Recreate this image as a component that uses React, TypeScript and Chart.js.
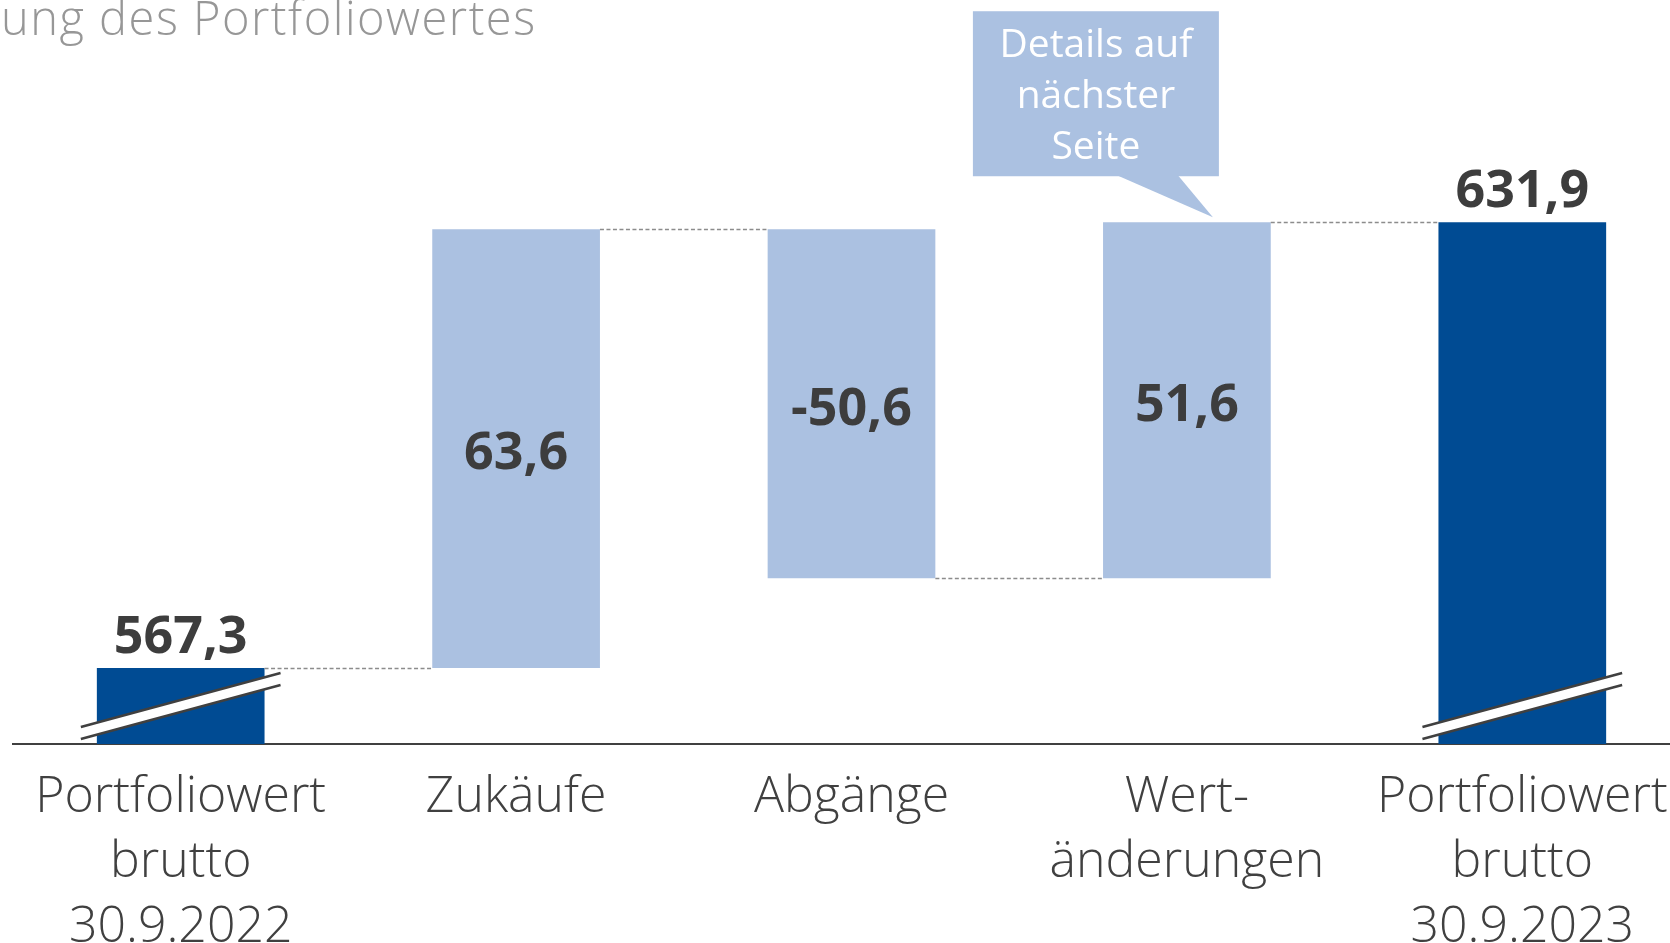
import { useEffect, useRef } from "react";
import { Chart, registerables } from "chart.js";

Chart.register(...registerables);

// ---------- data ----------
const categories: string[][] = [
  ["Portfoliowert", "brutto", "30.9.2022"],
  ["Zukäufe"],
  ["Abgänge"],
  ["Wert-", "änderungen"],
  ["Portfoliowert", "brutto", "30.9.2023"],
];
const startValue = 567.3;
const changes = [63.6, -50.6, 51.6];
const endValue = 631.9;
const valueLabels = ["567,3", "63,6", "-50,6", "51,6", "631,9"];
const titleText = "Entwicklung des Portfoliowertes";
const titleHiddenPart = "Entwickl";
const calloutLines = ["Details auf", "nächster", "Seite"];
const AXIS_MIN = 556.3;
const AXIS_MAX = 664.1;

// ---------- styles ----------
const DARK_BLUE = "#004b93";
const LIGHT_BLUE = "#abc1e1";
const TEXT_DARK = "#3d3d3d";
const AXIS_COLOR = "#404040";
const FONT = "'Open Sans', 'Noto Sans', sans-serif";

// running totals
const totals: number[] = [startValue];
changes.forEach((c) => totals.push(Math.round((totals[totals.length - 1] + c) * 10) / 10));
const ranges: [number, number][] = [[AXIS_MIN, startValue]];
for (let i = 0; i < changes.length; i++) ranges.push([totals[i], totals[i + 1]]);
ranges.push([AXIS_MIN, endValue]);
const connectorLevels = [...totals.slice(0, 3), endValue];
const barColors = [DARK_BLUE, LIGHT_BLUE, LIGHT_BLUE, LIGHT_BLUE, DARK_BLUE];
// break marks: [bar index, centre height above axis]
const breakMarks: [number, number][] = [
  [0, 38],
  [4, 38],
];

const decorPlugin = {
  id: "decor",
  afterDatasetsDraw(chart: any) {
    const ctx: CanvasRenderingContext2D = chart.ctx;
    const meta = chart.getDatasetMeta(0);
    const yScale = chart.scales.y;
    const area = chart.chartArea;
    const bars = meta.data.map((b: any) => {
      const p = b.getProps(["x", "y", "base", "width"], true);
      return {
        x: p.x,
        left: p.x - p.width / 2,
        right: p.x + p.width / 2,
        top: Math.min(p.y, p.base),
        bottom: Math.max(p.y, p.base),
      };
    });

    ctx.save();
    // title (cut off at the top/left like the reference)
    ctx.font = `300 47px ${FONT}`;
    (ctx as any).letterSpacing = "1.5px";
    ctx.fillStyle = "#979797";
    ctx.textAlign = "left";
    ctx.textBaseline = "alphabetic";
    const hidden = ctx.measureText(titleHiddenPart).width;
    ctx.fillText(titleText, -hidden + 1, 35);
    (ctx as any).letterSpacing = "0px";

    // dashed connectors
    ctx.strokeStyle = "#8c8c8c";
    ctx.lineWidth = 1.3;
    ctx.setLineDash([4, 2.5]);
    for (let i = 0; i < 4; i++) {
      const y = Math.round(yScale.getPixelForValue(connectorLevels[i])) + 0.5;
      ctx.beginPath();
      ctx.moveTo(bars[i].right, y);
      ctx.lineTo(bars[i + 1].left, y);
      ctx.stroke();
    }
    ctx.setLineDash([]);

    // break marks
    breakMarks.forEach(([idx, h]) => {
      const b = bars[idx];
      const x1 = b.left - 16;
      const x2 = b.right + 16;
      const cy = area.bottom - h;
      const dy = 27;
      const gap = 6;
      ctx.fillStyle = "#ffffff";
      ctx.beginPath();
      ctx.moveTo(x1, cy + dy - gap);
      ctx.lineTo(x2, cy - dy - gap);
      ctx.lineTo(x2, cy - dy + gap);
      ctx.lineTo(x1, cy + dy + gap);
      ctx.closePath();
      ctx.fill();
      ctx.strokeStyle = AXIS_COLOR;
      ctx.lineWidth = 2.5;
      ctx.beginPath();
      ctx.moveTo(x1, cy + dy - gap);
      ctx.lineTo(x2, cy - dy - gap);
      ctx.moveTo(x1, cy + dy + gap);
      ctx.lineTo(x2, cy - dy + gap);
      ctx.stroke();
    });

    // value labels
    ctx.font = `bold 52px ${FONT}`;
    ctx.fillStyle = TEXT_DARK;
    ctx.textAlign = "center";
    bars.forEach((b: any, i: number) => {
      if (i === 0 || i === bars.length - 1) {
        ctx.textBaseline = "alphabetic";
        ctx.fillText(valueLabels[i], b.x, b.top - 15);
      } else {
        ctx.textBaseline = "middle";
        ctx.fillText(valueLabels[i], b.x, (b.top + b.bottom) / 2 + 6);
      }
    });

    // callout
    const cb = bars[3];
    const boxL = cb.x - 214;
    const boxR = cb.x + 32;
    const boxB = cb.top - 46;
    const boxT = cb.top - 211;
    ctx.fillStyle = LIGHT_BLUE;
    ctx.fillRect(boxL, boxT, boxR - boxL, boxB - boxT);
    ctx.beginPath();
    ctx.moveTo(cb.x - 70, boxB - 1);
    ctx.lineTo(cb.x - 9, boxB - 1);
    ctx.lineTo(cb.x + 26, cb.top - 5);
    ctx.closePath();
    ctx.fill();
    ctx.fillStyle = "#ffffff";
    ctx.font = `39px ${FONT}`;
    ctx.textBaseline = "middle";
    const cx = (boxL + boxR) / 2;
    calloutLines.forEach((line, i) => {
      ctx.fillText(line, cx, boxT + 35 + i * 51);
    });
    ctx.restore();
  },
};

export default function App() {
  const ref = useRef<HTMLCanvasElement | null>(null);
  useEffect(() => {
    if (!ref.current) return;
    const chart = new Chart(ref.current, {
      type: "bar",
      data: {
        labels: categories,
        datasets: [
          {
            data: ranges as any,
            backgroundColor: barColors,
            borderWidth: 0,
            barPercentage: 0.5,
            categoryPercentage: 1,
          },
        ],
      },
      options: {
        responsive: false,
        animation: false,
        events: [],
        layout: { padding: { left: 13, right: 10, top: 0, bottom: 0 } },
        plugins: {
          legend: { display: false },
          tooltip: { enabled: false },
          title: { display: false },
        },
        scales: {
          x: {
            grid: { display: false, drawTicks: false },
            border: { display: true, color: AXIS_COLOR, width: 2 },
            ticks: {
              color: "#404040",
              padding: 21,
              maxRotation: 0,
              autoSkip: false,
              font: { family: FONT, size: 50, weight: "300" as any, lineHeight: 1.3 },
            },
            afterFit: (scale: any) => {
              scale.height = 199;
            },
          },
          y: {
            display: false,
            min: AXIS_MIN,
            max: AXIS_MAX,
          },
        },
      },
      plugins: [decorPlugin],
    });
    return () => chart.destroy();
  }, []);

  return (
    <div
      style={{
        position: "fixed",
        left: 0,
        top: 0,
        width: 1670,
        height: 943,
        overflow: "hidden",
        background: "#ffffff",
      }}
    >
      <canvas ref={ref} width={1700} height={943} style={{ display: "block", width: 1700, height: 943 }} />
    </div>
  );
}
